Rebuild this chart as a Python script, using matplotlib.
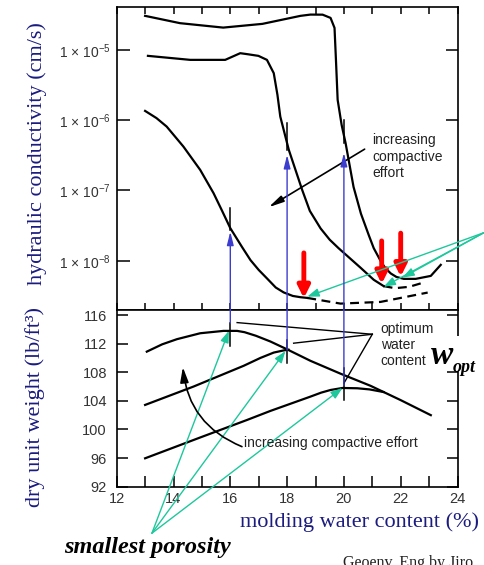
import numpy as np
import matplotlib
matplotlib.use("Agg")
from matplotlib import pyplot as plt
from matplotlib.patches import ConnectionPatch, Rectangle

plt.rcParams['font.family'] = ['Liberation Sans', 'DejaVu Sans']
plt.rcParams['mathtext.fontset'] = 'custom'
plt.rcParams['mathtext.rm'] = 'Liberation Sans'
plt.rcParams['mathtext.it'] = 'Liberation Sans:italic'
plt.rcParams['mathtext.bf'] = 'Liberation Sans:bold'

# hydraulic conductivity curves (log10 k, cm/s) vs molding water content (%)
w_k1 = [13.0, 14.23, 15.75, 17.13, 18.47, 18.82, 19.25, 19.53, 19.67, 19.72, 19.78,
        19.92, 20.06, 20.34, 20.6, 20.88, 21.05, 21.29, 21.45, 21.65, 21.85, 22.11,
        22.53, 23.06, 23.41]
logk_k1 = [-4.516, -4.620, -4.683, -4.630, -4.516, -4.498, -4.499, -4.545, -4.687, -5.142,
           -5.711, -6.067, -6.327, -6.95, -7.33, -7.64, -7.82, -8.00, -8.10, -8.18, -8.23,
           -8.257, -8.257, -8.215, -8.058]

w_k2 = [13.10, 14.59, 15.82, 16.35, 16.60, 16.99, 17.29, 17.53, 17.66, 17.76, 18.06,
        18.53, 18.8, 19.18, 19.5, 19.81, 20.2, 20.59, 21.05, 21.40]
logk_k2 = [-5.085, -5.142, -5.142, -5.047, -5.061, -5.085, -5.142, -5.331, -5.640, -5.949,
           -6.422, -6.991, -7.29, -7.54, -7.70, -7.82, -7.96, -8.10, -8.27, -8.36]
w_k2_dash = [21.40, 21.8, 22.3, 22.8]
logk_k2_dash = [-8.36, -8.39, -8.37, -8.31]

w_k3 = [13.0, 13.4, 13.76, 14.35, 14.94, 15.41, 15.7, 16.0, 16.41, 16.71, 17.0, 17.29,
        17.6, 17.88, 18.2, 18.47, 18.71]
logk_k3 = [-5.868, -5.97, -6.091, -6.376, -6.707, -7.038, -7.28, -7.536, -7.802, -7.99,
           -8.13, -8.25, -8.38, -8.45, -8.50, -8.518, -8.528]
w_k3_dash = [18.71, 19.88, 21.29, 22.95]
logk_k3_dash = [-8.528, -8.609, -8.585, -8.452]

# dry unit weight curves (lb/ft3)
w_gA = [13.06, 13.6, 14.12, 14.94, 15.76, 16.24, 16.5, 16.9, 17.41, 18.0, 18.82, 19.88,
        20.94, 22.0, 23.06]
g_A = [110.88, 111.9, 112.62, 113.45, 113.78, 113.78, 113.6, 113.1, 112.3, 111.2, 109.6,
       107.8, 106.1, 104.1, 102.0]
w_gB = [13.0, 14.70, 16.47, 17.06, 17.53, 17.88, 18.05]
g_B = [103.43, 105.99, 108.9, 110.0, 110.75, 111.05, 111.15]
w_gC = [13.0, 14.94, 16.59, 17.41, 18.82, 19.2, 19.53, 19.95, 20.47, 20.9, 21.4]
g_C = [95.97, 98.88, 101.33, 102.59, 104.59, 105.15, 105.52, 105.8, 105.76, 105.6, 105.23]

# optimum water contents and markers
w_opt = [16, 18, 20]
g_blue_start = [114.87, 111.1, 106.2]
logk_blue_tip = [-7.585, -6.494, -6.465]
tick_top = [(-7.25, -7.56), (-6.04, -6.42), (-6.0, -6.32)]
tick_bot = [(114.87, 111.62), (112.52, 109.26), (108.56, 104.13)]
peaks_w = [15.95, 17.94, 19.95]
peaks_g = [113.8, 110.95, 105.8]
porosity_src = (13.24, 85.5)

# minimum conductivity points
min_w = [18.71, 21.4, 22.06]
min_logk = [-8.51, -8.37, -8.24]
green_src = (24.93, -7.60)
red_w = [18.59, 21.33, 22.0]
red_top = [-7.888, -7.717, -7.607]
red_tip = [-8.532, -8.329, -8.225]

ktick_vals = [1e-5, 1e-6, 1e-7, 1e-8]
ktick_labels = ['1 × 10$^{-5}$', '1 × 10$^{-6}$', '1 × 10$^{-7}$', '1 × 10$^{-8}$']

navy = '#1b1b80'
blue = '#3c3ccf'
green = '#1ec89c'
grey = '#333333'

fig = plt.figure(figsize=(4.84, 5.65), dpi=100)
W, H = 484, 565
L, R = 116.7, 457.5
ax_top = fig.add_axes([L / W, 1 - 310 / H, (R - L) / W, (310 - 7) / H])
ax_bot = fig.add_axes([L / W, 1 - 486.7 / H, (R - L) / W, (486.7 - 310) / H])

for ax in (ax_top, ax_bot):
    ax.set_xlim(12, 24)
    for s in ax.spines.values():
        s.set_linewidth(1.2)

# ---- top panel
ax_top.set_yscale('log')
ax_top.set_ylim(10 ** -8.70, 10 ** -4.39)
ax_top.plot(w_k1, 10 ** np.array(logk_k1), color='k', lw=1.6)
ax_top.plot(w_k2, 10 ** np.array(logk_k2), color='k', lw=1.6)
ax_top.plot(w_k3, 10 ** np.array(logk_k3), color='k', lw=1.6)
ax_top.plot(w_k2_dash, 10 ** np.array(logk_k2_dash), color='k', lw=1.6, ls=(0, (4, 2.5)))
ax_top.plot(w_k3_dash, 10 ** np.array(logk_k3_dash), color='k', lw=1.6, ls=(0, (4, 2.5)))

ax_top.set_xticks(range(12, 25))
ax_top.tick_params(axis='x', which='both', top=True, bottom=True, direction='in',
                   length=5, width=1.1, labelbottom=False)
ax_top.set_yticks(ktick_vals)
ax_top.set_yticklabels(ktick_labels)
ax_top.yaxis.set_minor_locator(matplotlib.ticker.NullLocator())
ax_top.tick_params(axis='y', left=True, right=True, direction='in', length=9, width=1.1,
                   labelsize=10, labelcolor=grey, pad=4)

for w, (a, b) in zip(w_opt, tick_top):
    ax_top.plot([w, w], [10 ** a, 10 ** b], color='k', lw=1.1)

for w, a, b in zip(red_w, red_top, red_tip):
    ax_top.annotate('', xy=(w, 10 ** b), xytext=(w, 10 ** a),
                    arrowprops=dict(arrowstyle='-|>,head_length=0.7,head_width=0.35',
                                    color='red', lw=3.5, mutation_scale=10,
                                    shrinkA=0, shrinkB=0))
for w, lk in zip(min_w, min_logk):
    ax_top.annotate('', xy=(w, 10 ** lk), xytext=(green_src[0], 10 ** green_src[1]),
                    annotation_clip=False,
                    arrowprops=dict(arrowstyle='-|>,head_length=0.7,head_width=0.25',
                                    color=green, lw=1.0, mutation_scale=10,
                                    shrinkA=0, shrinkB=0))

ax_top.annotate('', xy=(17.35, 10 ** -7.238), xytext=(20.73, 10 ** -6.412),
                arrowprops=dict(arrowstyle='-|>,head_length=0.9,head_width=0.2',
                                color='k', lw=1.2, mutation_scale=10, shrinkA=0, shrinkB=0))
ax_top.text(21.0, 10 ** -6.518, 'increasing\ncompactive\neffort', fontsize=10,
            color='#222222', ha='left', va='center')

# ---- bottom panel
ax_bot.set_ylim(92, 116.7)
ax_bot.plot(w_gA, g_A, color='k', lw=1.6)
ax_bot.plot(w_gB, g_B, color='k', lw=1.6)
ax_bot.plot(w_gC, g_C, color='k', lw=1.6)
ax_bot.set_xticks(range(12, 25, 2))
ax_bot.set_xticks(range(13, 24, 2), minor=True)
ax_bot.set_yticks(range(92, 117, 4))
ax_bot.tick_params(axis='both', which='both', direction='in', length=8, width=1.1,
                   right=True, top=False, labelsize=10.5, labelcolor=grey)
ax_bot.tick_params(axis='x', pad=4)
ax_bot.tick_params(axis='y', pad=7)

for w, (a, b) in zip(w_opt, tick_bot):
    ax_bot.plot([w, w], [a, b], color='k', lw=1.1)

for pw, pg in zip(peaks_w, peaks_g):
    ax_bot.annotate('', xy=(pw, pg), xytext=porosity_src, annotation_clip=False,
                    arrowprops=dict(arrowstyle='-|>,head_length=0.7,head_width=0.25',
                                    color=green, lw=1.0, mutation_scale=10,
                                    shrinkA=0, shrinkB=0))

# leader lines to the optimum points
for lw_, lg in [(16.24, 114.94), (18.23, 112.06), (20.0, 106.46)]:
    ax_bot.plot([21.0, lw_], [113.31, lg], color='k', lw=1.0)
ax_bot.text(21.29, 111.82, 'optimum\nwater\ncontent', fontsize=10, color='#222222',
            ha='left', va='center')

ax_bot.annotate('', xy=(14.33, 108.7), xytext=(16.41, 97.6),
                arrowprops=dict(arrowstyle='-|>,head_length=0.9,head_width=0.25',
                                color='k', lw=1.2, mutation_scale=10,
                                connectionstyle='arc3,rad=-0.3', shrinkA=0, shrinkB=0))
ax_bot.text(16.47, 98.15, 'increasing compactive effort', fontsize=10, color='#222222',
            ha='left', va='center')

# blue arrows from optimum dry unit weight up to conductivity curves
for w, g0, lk in zip(w_opt, g_blue_start, logk_blue_tip):
    con = ConnectionPatch(xyA=(w, g0), coordsA=ax_bot.transData,
                          xyB=(w, 10 ** lk), coordsB=ax_top.transData,
                          arrowstyle='-|>,head_length=0.8,head_width=0.2',
                          mutation_scale=10, color=blue, lw=1.0, shrinkA=0, shrinkB=0)
    fig.add_artist(con)

# white box behind w_opt
fig.add_artist(Rectangle((429 / W, 1 - 371 / H), (W - 429) / W, 35 / H,
                         transform=fig.transFigure, facecolor='white', edgecolor='none',
                         zorder=5))
fig.text(431 / W, 1 - 355 / H, 'w', fontsize=24, family='Liberation Serif',
         weight='bold', style='italic', ha='left', va='center', zorder=6)
fig.text(453 / W, 1 - 367 / H, 'opt', fontsize=13, family='Liberation Serif',
         weight='bold', style='italic', ha='left', va='center', zorder=6)

# axis titles
fig.text(36.7 / W, 1 - 154 / H, 'hydraulic conductivity (cm/s)', rotation=90,
         fontsize=16, family='Liberation Serif', color=navy, ha='center', va='center')
fig.text(35 / W, 1 - 407 / H, 'dry unit weight (lb/ft³)', rotation=90,
         fontsize=16, family='Liberation Serif', color=navy, ha='center', va='center')
fig.text(359 / W, 1 - 521.7 / H, 'molding water content (%)', fontsize=16,
         family='Liberation Serif', color=navy, ha='center', va='center')
fig.text(147 / W, 1 - 547 / H, 'smallest porosity', fontsize=17.5,
         family='Liberation Serif', weight='bold', style='italic', ha='center', va='center')
fig.text(343 / W, 1 - 567 / H, 'Geoenv. Eng by Jiro', fontsize=11.5,
         family='Liberation Serif', color='#222222', ha='left', va='baseline')

fig.savefig('out.png', dpi=100)
